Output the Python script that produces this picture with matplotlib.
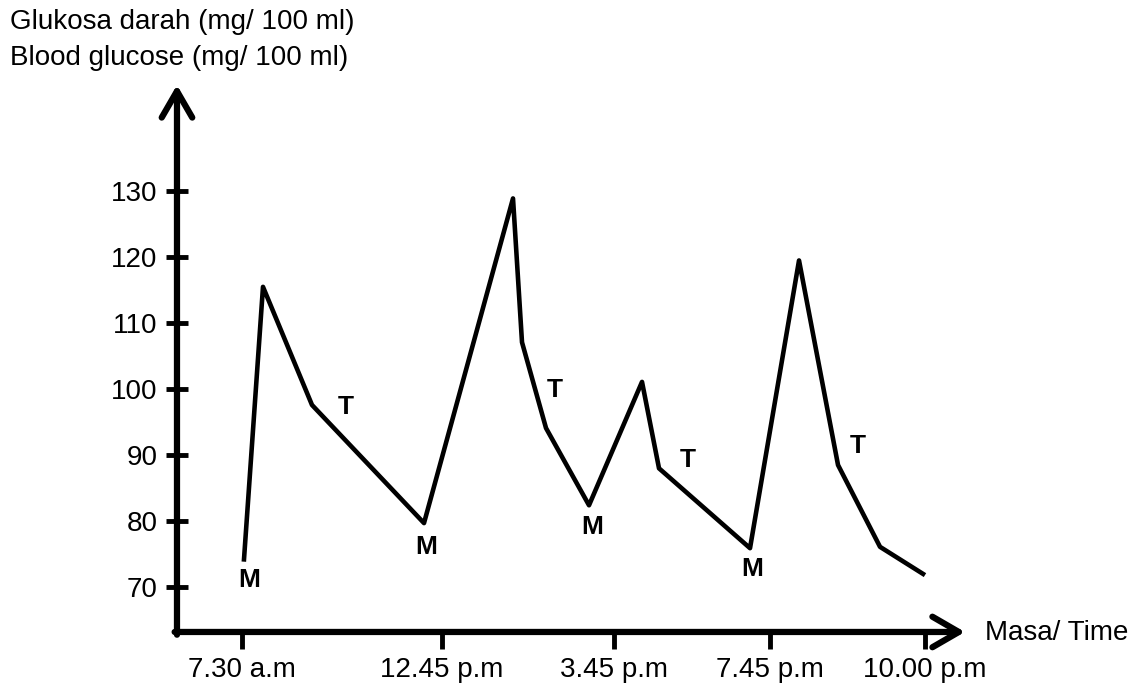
import matplotlib.pyplot as plt

plt.rcParams['font.family'] = ['Liberation Sans', 'DejaVu Sans']

# positions along the time axis (arbitrary units, axis is not linear in hours)
tick_pos = [0, 20, 37.2, 52.8, 68.3]
tick_labels = ['7.30 a.m', '12.45 p.m', '3.45 p.m', '7.45 p.m', '10.00 p.m']

x = [0.2, 2.1, 7.0, 18.2, 27.1, 28.0, 30.4, 34.7, 40.0, 41.7, 50.8, 55.7, 59.6, 63.8, 68.1]
glucose = [74.2, 115.5, 97.6, 79.7, 128.9, 107.1, 94.1, 82.4, 101.1, 88.0, 75.9, 119.5, 88.5, 76.1, 72.0]

yticks = [70, 80, 90, 100, 110, 120, 130]

# M / T markers along the curve
lab_text = ['M', 'M', 'M', 'M', 'T', 'T', 'T', 'T']
lab_x = [0.7, 18.4, 35.0, 51.0, 10.4, 31.3, 44.6, 61.6]
lab_y = [71.1, 76.1, 79.1, 72.7, 97.3, 99.8, 89.2, 91.4]

fig = plt.figure(figsize=(11.36, 6.9), dpi=100)
ax = fig.add_axes([0.1558, 0.0841, 0.6937, 0.7928])
ax.set_xlim(-6.5, 72.3)
ax.set_ylim(63.2, 146.1)

ax.plot(x, glucose, color='black', lw=3.3)

for s in ax.spines.values():
    s.set_visible(False)

# axes with open arrow heads
arr = dict(arrowstyle='->,head_length=0.95,head_width=0.55', lw=4.5, color='black',
           shrinkA=0, shrinkB=0, mutation_scale=20, capstyle='round', joinstyle='round')
ax.annotate('', xy=(0, 1), xytext=(0, -0.005), xycoords='axes fraction', arrowprops=arr)
ax.annotate('', xy=(1, 0), xytext=(-0.003, 0), xycoords='axes fraction', arrowprops=arr)

ax.set_yticks(yticks)
ax.set_yticklabels([str(v) for v in yticks])
ax.set_xticks(tick_pos)
ax.set_xticklabels(tick_labels)
ax.tick_params(axis='y', direction='inout', length=16, width=3.5, pad=6, labelsize=20)
ax.tick_params(axis='x', direction='out', length=12, width=3.5, pad=6, labelsize=20)

for t, lx, ly in zip(lab_text, lab_x, lab_y):
    ax.text(lx, ly, t, fontsize=19, fontweight='bold', ha='center', va='center')

fig.text(10 / 1136, 1 - 22 / 690, 'Glukosa darah (mg/ 100 ml)', fontsize=20, va='center')
fig.text(10 / 1136, 1 - 58 / 690, 'Blood glucose (mg/ 100 ml)', fontsize=20, va='center')
fig.text(985 / 1136, 1 - 633 / 690, 'Masa/ Time', fontsize=20, va='center')

fig.savefig('out.png', dpi=100)
